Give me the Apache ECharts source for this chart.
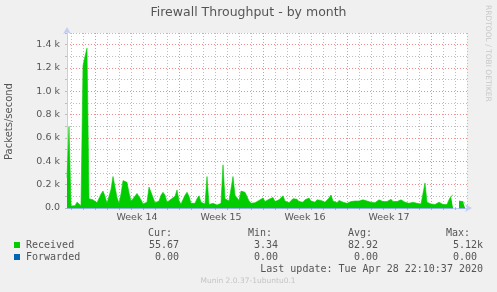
<!DOCTYPE html>
<html>
<head>
<meta charset="utf-8">
<script src="https://cdn.jsdelivr.net/npm/echarts@6/dist/echarts.min.js"></script>
<style>
html,body{margin:0;padding:0;background:#f0f0f0;}
#chart{width:497px;height:292px;}
</style>
</head>
<body>
<div id="chart"></div>
<script>
// ---- data (one sample every 4 hours, day offsets relative to Sunday 29 Mar 2020 00:00) ----
const startDay = -14 / 6;          // first sample, in days relative to the first week line
const stepDay = 1 / 6;             // 4 hours per sample
const received = [
  260, 700, 18, 18, 20, 50, 40, 20, 1220, 1300,
  1370, 80, 90, 70, 60, 45, 60, 120, 145, 100,
  40, 45, 160, 270, 285, 90, 40, 120, 235, 240,
  220, 130, 60, 80, 95, 125, 115, 70, 35, 30,
  50, 180, 197, 90, 45, 40, 60, 110, 135, 110,
  50, 60, 75, 65, 100, 155, 60, 35, 50, 110,
  135, 100, 40, 30, 40, 80, 105, 50, 40, 35,
  270, 30, 35, 40, 30, 25, 35, 40, 370, 80,
  70, 60, 50, 270, 110, 100, 65, 145, 150, 135,
  145, 60, 40, 40, 45, 50, 65, 70, 85, 55,
  60, 75, 80, 90, 55, 65, 70, 85, 105, 60,
  45, 45, 50, 80, 90, 75, 55, 55, 50, 70,
  75, 85, 60, 45, 50, 70, 75, 65, 55, 50,
  60, 85, 112, 60, 45, 45, 65, 70, 50, 40,
  40, 45, 55, 45, 60, 75, 60, 50, 70, 55,
  60, 75, 50, 45, 45, 50, 70, 75, 55, 50,
  55, 50, 75, 55, 50, 55, 50, 70, 55, 50,
  45, 40, 45, 50, 65, 40, 35, 35, 40, 215,
  50, 55, 35, 30, 30, 30, 50, 65, 30, 30,
  30, 70, 100, 112, '-', '-', 60, 60, 55, 40,
  '-'
];
const forwarded = received.map(v => (v === '-' ? '-' : 0));
const weekNames = ['Week 14', 'Week 15', 'Week 16', 'Week 17'];
const yTickValues = [0, 200, 400, 600, 800, 1000, 1200, 1400];
const statHeaders = ['Cur:', 'Min:', 'Avg:', 'Max:'];
const receivedStats = ['55.67', '3.34', '82.92', '5.12k'];
const forwardedStats = ['0.00', '0.00', '0.00', '0.00'];
const legendNames = ['Received', 'Forwarded'];
const colors = ['#00cc00', '#0066b3'];

// ---- derived ----
const categories = received.map((_, i) => String(i));
const dayOf = i => startDay + i * stepDay;
const isDayLine = i => Math.abs(dayOf(i) - Math.round(dayOf(i))) < 1e-6;
const isWeekLine = i => isDayLine(i) && ((Math.round(dayOf(i)) % 7) + 7) % 7 === 0;
const weekLabelIdx = {};
weekNames.forEach((w, k) => { weekLabelIdx[Math.round((3.5 + 7 * k - startDay) / stepDay)] = w; });

const GRAY = '#bdbdbd';
const RED = '#f08c8c';
const AXIS = '#c6cdf2';
const TXT = '#555555';
const SANS = 'DejaVu Sans';

const graphics = [];
graphics.push({type:'text', left:'center', top:6, style:{text:'Firewall Throughput - by month', font:'12.5px "DejaVu Sans"', fill:TXT}});
graphics.push({type:'text', x:4, y:160, rotation:Math.PI/2, style:{text:'Packets/second', font:'10px "DejaVu Sans"', fill:TXT}});
graphics.push({type:'text', x:492, y:5, rotation:-Math.PI/2, style:{text:'RRDTOOL / TOBI OETIKER', font:'7.5px "DejaVu Sans"', fill:'#c8c8c8'}});
const colRight = [179, 278, 378, 483];
const headRight = [172, 272, 372, 470];
statHeaders.forEach((h, k) => graphics.push({type:'text', x:headRight[k], y:233, style:{text:h, font:'10px "DejaVu Sans Mono"', fill:TXT, align:'right', verticalAlign:'middle'}}));
[receivedStats, forwardedStats].forEach((row, r) => {
  const y = 245 + r * 12;
  graphics.push({type:'rect', shape:{x:14, y:y - 3, width:6, height:6}, style:{fill:colors[r]}});
  graphics.push({type:'text', x:26, y:y, style:{text:legendNames[r], font:'10px "DejaVu Sans Mono"', fill:TXT, verticalAlign:'middle'}});
  row.forEach((v, k) => {
    const xr = (r === 1 && k === 3) ? colRight[k] - 6 : colRight[k];
    graphics.push({type:'text', x:xr, y:y, style:{text:v, font:'10px "DejaVu Sans Mono"', fill:TXT, align:'right', verticalAlign:'middle'}});
  });
});
graphics.push({type:'text', x:483, y:269, style:{text:'Last update: Tue Apr 28 22:10:37 2020', font:'10px "DejaVu Sans Mono"', fill:TXT, align:'right', verticalAlign:'middle'}});
graphics.push({type:'text', x:248, y:281, style:{text:'Munin 2.0.37-1ubuntu0.1', font:'7.5px "DejaVu Sans"', fill:'#c4c4c4', align:'center', verticalAlign:'middle'}});

// vertical grid lines as markLines at day / week boundaries (axis values)
const dayLineData = categories.filter((_, i) => isDayLine(i) && !isWeekLine(i)).map(c => ({xAxis: c}));
const weekLineData = categories.filter((_, i) => isWeekLine(i)).map(c => ({xAxis: c}));

const chart = echarts.init(document.getElementById('chart'), null, {renderer:'canvas'});
chart.setOption({
  backgroundColor:'#f0f0f0',
  animation:false,
  grid:{left:67, right:30, top:33, bottom:84, show:true, backgroundColor:'#ffffff', borderWidth:0},
  xAxis:{
    type:'category', data:categories, boundaryGap:false, position:'bottom',
    axisLine:{show:true, lineStyle:{color:AXIS, width:1}, symbol:['none','arrow'], symbolSize:[6,7], symbolOffset:[0,5]},
    axisTick:{show:true, length:2, interval:(i)=>isDayLine(i), lineStyle:{color:'#e9a0a0'}},
    splitLine:{show:false},
    axisLabel:{show:true, interval:(i)=>weekLabelIdx[i] !== undefined, formatter:(v, i)=>weekLabelIdx[i] || '', color:TXT, fontFamily:SANS, fontSize:9.5, margin:5}
  },
  yAxis:{
    type:'value', min:0, max:1500, interval:100,
    axisLine:{show:true, lineStyle:{color:AXIS}, symbol:['none','arrow'], symbolSize:[6,7], symbolOffset:[0,6]},
    axisTick:{show:true, length:2, lineStyle:{color:GRAY}},
    splitLine:{show:true, lineStyle:{color:[RED, GRAY], type:[1,2], width:1}},
    axisLabel:{color:TXT, fontFamily:SANS, fontSize:9.5, margin:7,
      formatter:(v)=> yTickValues.indexOf(v) < 0 ? '' : (v === 0 ? '0.0' : (v/1000).toFixed(1) + ' k')}
  },
  series:[{
    name:'grid', type:'line', data:[], silent:true, z:0,
    markLine:{silent:true, symbol:['none','none'], label:{show:false}, animation:false, z:0,
      lineStyle:{color:GRAY, type:[1,2], width:1}, data:dayLineData}
  },{
    name:'gridWeek', type:'line', data:[], silent:true, z:0,
    markLine:{silent:true, symbol:['none','none'], label:{show:false}, animation:false, z:0,
      lineStyle:{color:RED, type:[1,2], width:1}, data:weekLineData}
  },{
    name:legendNames[0], type:'line', data:received, symbol:'none', connectNulls:false,
    lineStyle:{width:0.6, color:colors[0]}, areaStyle:{color:colors[0], opacity:1}, z:2
  },{
    name:legendNames[1], type:'line', data:forwarded, symbol:'none',
    lineStyle:{width:1, color:colors[1]}, z:1
  }],
  graphic:graphics
});
</script>
</body>
</html>
